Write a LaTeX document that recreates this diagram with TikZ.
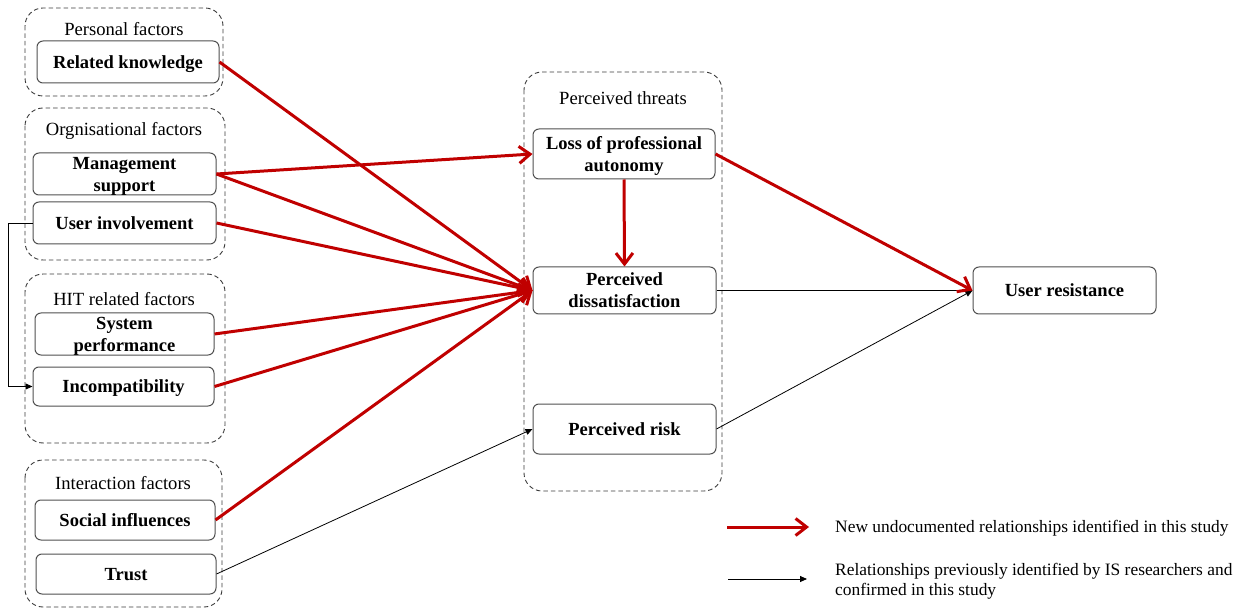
\documentclass[tikz,border=0pt]{standalone}
\usepackage{fontspec}
\setmainfont{Liberation Serif}
\usetikzlibrary{arrows.meta}
\definecolor{newred}{RGB}{192,0,0}
\definecolor{boxline}{RGB}{80,80,80}
\definecolor{grpline}{RGB}{60,60,60}
\begin{document}
\begin{tikzpicture}[x=1pt,y=-1pt,
  grp/.style={draw=grpline, dash pattern=on 4.5pt off 3pt, rounded corners=18pt, line width=0.9pt},
  gtitle/.style={font=\fontsize{18.6}{22}\selectfont, inner sep=0pt},
  factor/.style={draw=boxline, rounded corners=6pt, line width=1pt, inner sep=0pt,
    font=\fontsize{18.5}{22}\selectfont\bfseries, align=center, fill=white, text depth=0pt},
  newrel/.style={draw=newred, line width=3pt,
    -{Straight Barb[length=11pt,width=17pt,line width=3pt]}},
  oldrel/.style={draw=black, line width=0.8pt, -{Triangle[length=7pt,width=6pt]}},
  legend/.style={font=\fontsize{17.4}{20.5}\selectfont, align=left, anchor=west, inner sep=0pt},
]
\useasboundingbox (0,0) rectangle (1244,609);

% factor groups
\draw[grp] (25,8) rectangle (223,96);
\draw[grp] (25,108) rectangle (225,260);
\draw[grp] (25,274) rectangle (225,443);
\draw[grp] (25,460) rectangle (222,607);
\draw[grp] (524,72) rectangle (722,491);

\node[gtitle] (tpers) at (124,29) {Personal factors};
\node[gtitle] (torg)  at (124,131) {Orgnisational factors};
\node[gtitle] (thit)  at (124,299) {HIT related factors};
\node[gtitle] (tint)  at (123,483) {Interaction factors};
\node[gtitle] (tthr)  at (623,98) {Perceived threats};

% constructs
\node[factor, minimum width=182pt, minimum height=42pt] (rk)  at (128,62)  {Related knowledge};
\node[factor, minimum width=183pt, minimum height=42pt] (ms)  at (124.5,174) {Management\\support};
\node[factor, minimum width=183pt, minimum height=42pt] (ui)  at (124.5,223) {User involvement};
\node[factor, minimum width=179pt, minimum height=42pt] (sp)  at (124.5,334) {System\\performance};
\node[factor, minimum width=181pt, minimum height=39pt] (inc) at (123.5,386.5) {Incompatibility};
\node[factor, minimum width=180pt, minimum height=40pt] (si)  at (125,520) {Social influences};
\node[factor, minimum width=180pt, minimum height=40pt] (tr)  at (126,574) {Trust};

\node[factor, minimum width=182pt, minimum height=50pt] (lpa) at (624,154) {Loss of professional\\autonomy};
\node[factor, minimum width=183pt, minimum height=47pt] (pd)  at (624.5,290.5) {Perceived\\dissatisfaction};
\node[factor, minimum width=183pt, minimum height=50pt] (pr)  at (624.5,429) {Perceived risk};
\node[factor, minimum width=183pt, minimum height=47pt] (ur)  at (1064.5,290.5) {User resistance};

% relationships previously identified
\draw[oldrel] (pd.east) -- (ur.west);
\draw[oldrel] (pr.east) -- (ur.west);
\draw[oldrel] (tr.east) -- (pr.west);
\draw[oldrel] (ui.west) -- ++(-24,0) |- (inc.west);

% new relationships
\draw[newrel] (rk.east) -- (pd.west);
\draw[newrel] (ms.east) -- (lpa.west);
\draw[newrel] (ms.east) -- (pd.west);
\draw[newrel] (ui.east) -- (pd.west);
\draw[newrel] (sp.east) -- (pd.west);
\draw[newrel] (inc.east) -- (pd.west);
\draw[newrel] (si.east) -- (pd.west);
\draw[newrel] (lpa.south) -- (pd.north);
\draw[newrel] (lpa.east) -- (ur.west);

% legend
\coordinate (lna) at (727,527);
\coordinate (lnb) at (809,527);
\coordinate (loa) at (728,579);
\coordinate (lob) at (807,579);
\draw[newrel] (lna) -- (lnb);
\draw[oldrel] (loa) -- (lob);
\node[legend] (lnt) at (835,528) {New undocumented relationships identified in this study};
\node[legend] (lot) at (835,581) {Relationships previously identified by IS researchers and\\confirmed in this study};
\end{tikzpicture}
\end{document}
